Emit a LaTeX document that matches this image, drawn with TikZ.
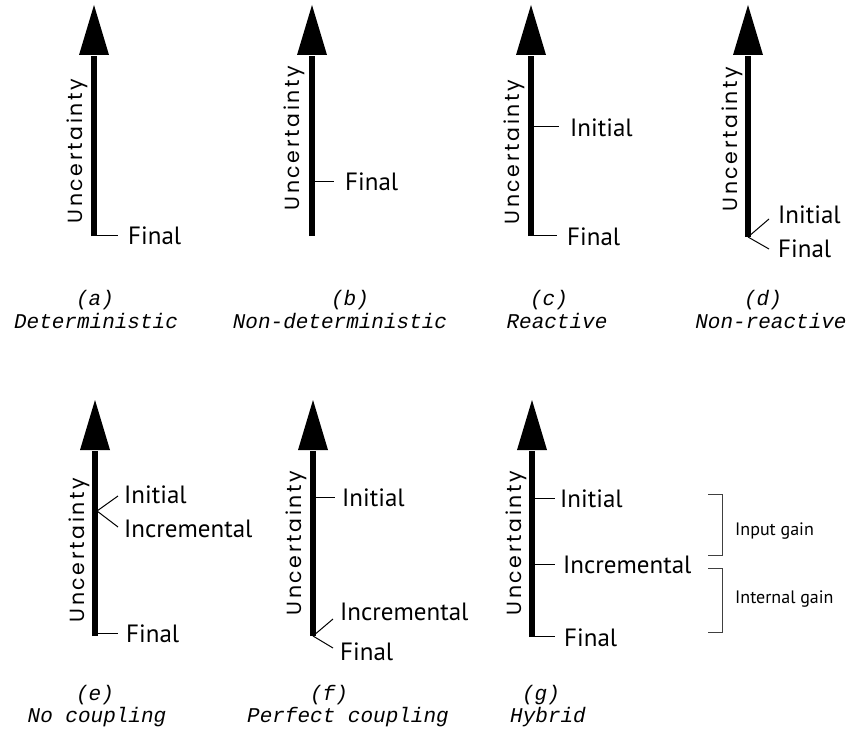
\documentclass[tikz,border=0pt]{standalone}
\usepackage{fontspec}
\setmainfont{PT Sans}
\newfontfamily\capfont{Liberation Mono}
\newfontfamily\uncfont[LetterSpace=13]{Poppins}
\begin{document}
\begin{tikzpicture}[x=1pt,y=-1pt,
  shaft/.style={line width=6pt},
  tickline/.style={line width=1pt},
  lbl/.style={anchor=base west, inner sep=0pt, font=\fontsize{25}{25}\selectfont},
  unc/.style={rotate=90, inner sep=0pt, font=\uncfont\fontsize{20.5}{20.5}\selectfont},
  captext/.style={anchor=base, inner sep=0pt, font=\capfont\itshape\fontsize{21}{21}\selectfont},
  brk/.style={line width=1pt, draw=black!75},
  gain/.style={anchor=base west, inner sep=0pt, font=\fontsize{18}{18}\selectfont}]
\useasboundingbox (0,0) rectangle (851,733);
\newcommand\uaxis[5]{%
  \coordinate (#1top) at (#2,#3);
  \coordinate (#1base) at (#2,#4);
  \coordinate (#1bot) at (#2,#5);
  \fill (#2-15,#4) -- (#1top) -- (#2+15,#4) -- cycle;
  \draw[shaft] (#1bot) -- ([yshift=-1pt]#1base);
}
% (a)
\uaxis{a}{94}{5}{55}{236}
\node[unc] (ua) at (77,151) {Uncertainty};
\coordinate (afin) at (94,235);
\node[lbl] (aF) at (128,244) {Final};
\draw[tickline] (afin) -- ++(24,0);
\node[captext] (ca1) at (95,305) {(a)};
\node[captext] (ca2) at (96,328) {Deterministic};
% (b)
\uaxis{b}{312}{5}{55}{236}
\node[unc] (ub) at (294,138) {Uncertainty};
\coordinate (bfin) at (312,181);
\node[lbl] (bF) at (345,190) {Final};
\draw[tickline] (bfin) -- ++(22,0);
\node[captext] (cb1) at (350,305) {(b)};
\node[captext] (cb2) at (340,328) {Non-deterministic};
% (c)
\uaxis{c}{531}{5}{55}{236}
\node[unc] (uc) at (514,152) {Uncertainty};
\coordinate (cini) at (531,127);
\coordinate (cfin) at (531,235);
\node[lbl] (cI) at (570,136) {Initial};
\node[lbl] (cF) at (567,245) {Final};
\draw[tickline] (cini) -- ++(28,0);
\draw[tickline] (cfin) -- ++(26,0);
\node[captext] (cc1) at (549,305) {(c)};
\node[captext] (cc2) at (557,328) {Reactive};
% (d)
\uaxis{d}{748}{5}{55}{237}
\node[unc] (ud) at (732,139) {Uncertainty};
\coordinate (dI) at (769,219);
\coordinate (dF) at (769,249);
\node[lbl] (dIl) at (778,223) {Initial};
\node[lbl] (dFl) at (778,257) {Final};
\draw[tickline] (dbot) -- (dI);
\draw[tickline] (dbot) -- (dF);
\node[captext] (cd1) at (763,305) {(d)};
\node[captext] (cd2) at (771,328) {Non-reactive};
% (e)
\uaxis{e}{95}{400}{450}{636}
\node[unc] (ue) at (79,550) {Uncertainty};
\coordinate (ej) at (97,511);
\coordinate (eI) at (118,496);
\coordinate (eN) at (118,527);
\draw[tickline] (ej) -- (eI);
\draw[tickline] (ej) -- (eN);
\node[lbl] (eIl) at (124,503) {Initial};
\node[lbl] (eNl) at (124,537) {Incremental};
\coordinate (efin) at (95,633);
\draw[tickline] (efin) -- ++(23,0);
\node[lbl] (eFl) at (126,642) {Final};
\node[captext] (ce1) at (95,700) {(e)};
\node[captext] (ce2) at (97,722) {No coupling};
% (f)
\uaxis{f}{313}{400}{450}{636}
\node[unc] (uf) at (296,543) {Uncertainty};
\coordinate (fini) at (313,497);
\draw[tickline] (fini) -- ++(22,0);
\node[lbl] (fIl) at (342,506) {Initial};
\coordinate (fN) at (333,619);
\coordinate (fF) at (333,648);
\draw[tickline] (fbot) -- (fN);
\draw[tickline] (fbot) -- (fF);
\node[lbl] (fNl) at (340,620) {Incremental};
\node[lbl] (fFl) at (340,660) {Final};
\node[captext] (cf1) at (329,700) {(f)};
\node[captext] (cf2) at (348,722) {Perfect coupling};
% (g)
\uaxis{g}{532}{400}{450}{637}
\node[unc] (ug) at (516,543) {Uncertainty};
\coordinate (gini) at (532,498);
\coordinate (ginc) at (532,564);
\coordinate (gfin) at (532,636);
\draw[tickline] (gini) -- ++(23,0);
\draw[tickline] (ginc) -- ++(23,0);
\draw[tickline] (gfin) -- ++(23,0);
\node[lbl] (gIl) at (560,507) {Initial};
\node[lbl] (gNl) at (563,573) {Incremental};
\node[lbl] (gFl) at (564,646) {Final};
\draw[brk] (708,494) -- (722,494) -- (722,555) -- (708,555);
\draw[brk] (708,568) -- (722,568) -- (722,632) -- (708,632);
\node[gain] (gin) at (735,535) {Input gain};
\node[gain] (gint) at (735,603) {Internal gain};
\node[captext] (cg1) at (541,700) {(g)};
\node[captext] (cg2) at (548,722) {Hybrid};
\end{tikzpicture}
\end{document}
